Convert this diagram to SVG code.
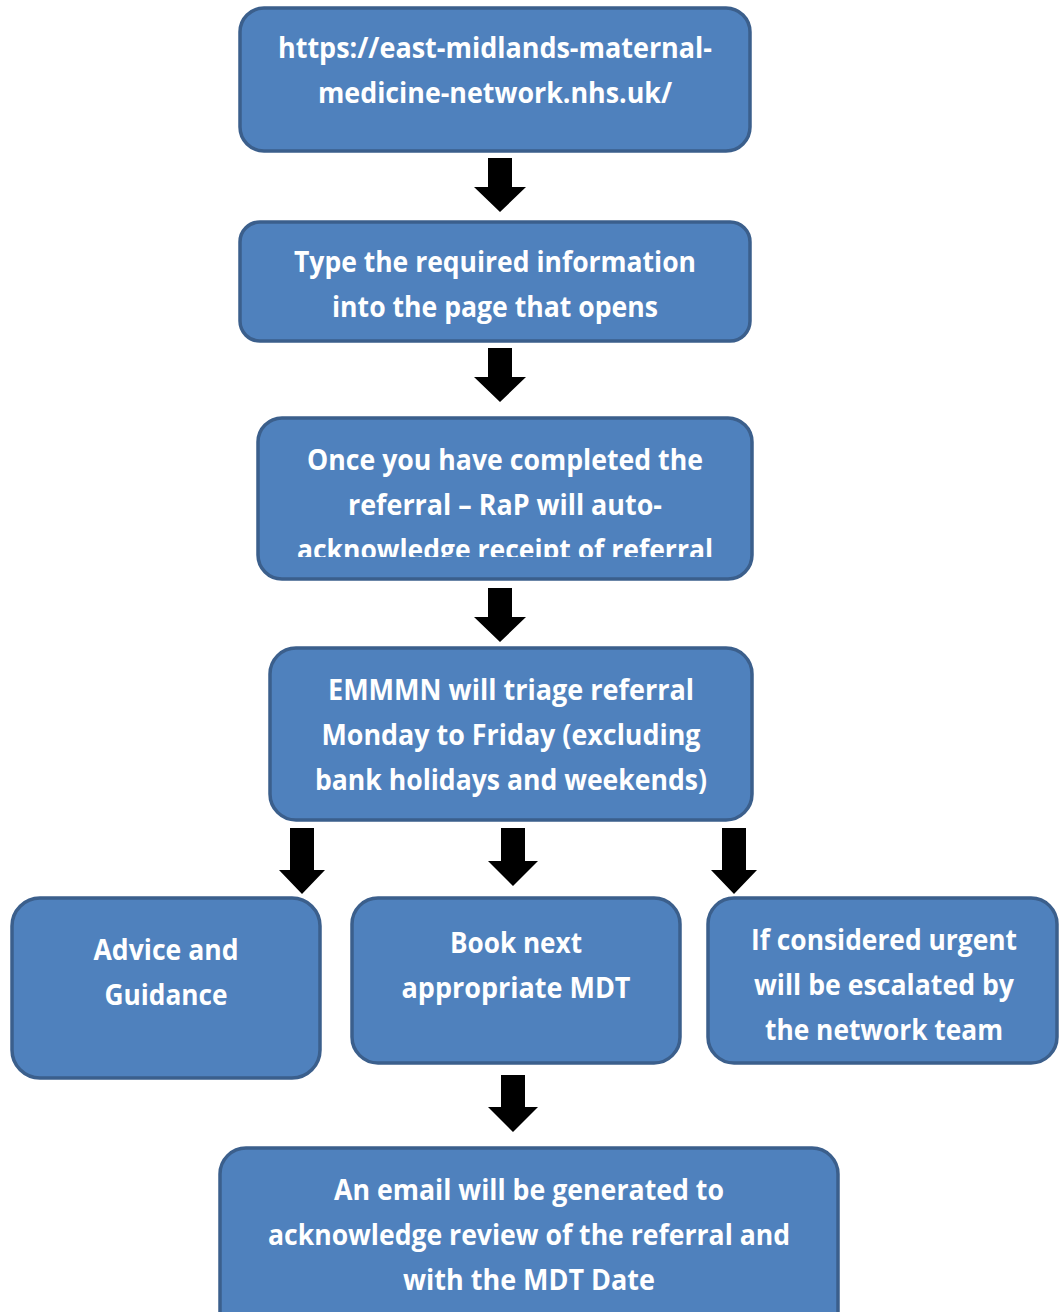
<svg xmlns="http://www.w3.org/2000/svg" width="1059" height="1312" viewBox="0 0 1059 1312">
<defs>
<style>
.box{fill:#4f81bd;stroke:#3b5f8c;stroke-width:3.5}
.t{fill:#ffffff;font-family:"Open Sans","Noto Sans","Liberation Sans",sans-serif;font-weight:700;font-size:28px;text-anchor:middle}
.arr{fill:#000000}
</style>
<clipPath id="clip3"><rect x="250" y="410" width="510" height="147"/></clipPath>
</defs>
<rect width="1059" height="1312" fill="#ffffff"/>
<g id="connectors">
<polygon class="arr" points="488,158 512,158 512,187 526,187 500,212 474,187 488,187"/>
<polygon class="arr" points="488,348 512,348 512,377 526,377 500,402 474,377 488,377"/>
<polygon class="arr" points="488,588 512,588 512,617 526,617 500,642 474,617 488,617"/>
<polygon class="arr" points="290,828 314,828 314,870 325,870 302,894 279,870 290,870"/>
<polygon class="arr" points="501,828 525,828 525,861 538,861 513,886 488,861 501,861"/>
<polygon class="arr" points="722,828 746,828 746,870 757,870 734,894 711,870 722,870"/>
<polygon class="arr" points="501,1075 525,1075 525,1107 538,1107 513,1132 488,1107 501,1107"/>
</g>
<g id="n1">
<rect class="box" x="240" y="8" width="510" height="143" rx="24"/>
<text class="t" x="495" y="58" textLength="434" lengthAdjust="spacingAndGlyphs">https://east-midlands-maternal-</text>
<text class="t" x="495" y="103" textLength="354" lengthAdjust="spacingAndGlyphs">medicine-network.nhs.uk/</text>
</g>
<g id="n2">
<rect class="box" x="240" y="222" width="510" height="119" rx="20"/>
<text class="t" x="495" y="272" textLength="402" lengthAdjust="spacingAndGlyphs">Type the required information</text>
<text class="t" x="495" y="317" textLength="326" lengthAdjust="spacingAndGlyphs">into the page that opens</text>
</g>
<g id="n3">
<rect class="box" x="258" y="418" width="494" height="161" rx="24"/>
<g clip-path="url(#clip3)">
<text class="t" x="505" y="470" textLength="396" lengthAdjust="spacingAndGlyphs">Once you have completed the</text>
<text class="t" x="505" y="515" textLength="314" lengthAdjust="spacingAndGlyphs">referral – RaP will auto-</text>
<text class="t" x="505" y="560" textLength="416" lengthAdjust="spacingAndGlyphs">acknowledge receipt of referral</text>
</g>
</g>
<g id="n4">
<rect class="box" x="270" y="648" width="482" height="172" rx="26"/>
<text class="t" x="511" y="700" textLength="366" lengthAdjust="spacingAndGlyphs">EMMMN will triage referral</text>
<text class="t" x="511" y="745" textLength="379" lengthAdjust="spacingAndGlyphs">Monday to Friday (excluding</text>
<text class="t" x="511" y="790" textLength="392" lengthAdjust="spacingAndGlyphs">bank holidays and weekends)</text>
</g>
<g id="n5">
<rect class="box" x="12" y="898" width="308" height="180" rx="28"/>
<text class="t" x="166" y="960" textLength="145" lengthAdjust="spacingAndGlyphs">Advice and</text>
<text class="t" x="166" y="1005" textLength="123" lengthAdjust="spacingAndGlyphs">Guidance</text>
</g>
<g id="n6">
<rect class="box" x="352" y="898" width="328" height="165" rx="26"/>
<text class="t" x="516" y="953" textLength="132" lengthAdjust="spacingAndGlyphs">Book next</text>
<text class="t" x="516" y="998" textLength="229" lengthAdjust="spacingAndGlyphs">appropriate MDT</text>
</g>
<g id="n7">
<rect class="box" x="708" y="898" width="349" height="165" rx="26"/>
<text class="t" x="884" y="950" textLength="266" lengthAdjust="spacingAndGlyphs">If considered urgent</text>
<text class="t" x="884" y="995" textLength="260" lengthAdjust="spacingAndGlyphs">will be escalated by</text>
<text class="t" x="884" y="1040" textLength="238" lengthAdjust="spacingAndGlyphs">the network team</text>
</g>
<g id="n8">
<rect class="box" x="220" y="1148" width="618" height="190" rx="26"/>
<text class="t" x="529" y="1200" textLength="390" lengthAdjust="spacingAndGlyphs">An email will be generated to</text>
<text class="t" x="529" y="1245" textLength="522" lengthAdjust="spacingAndGlyphs">acknowledge review of the referral and</text>
<text class="t" x="529" y="1290" textLength="252" lengthAdjust="spacingAndGlyphs">with the MDT Date</text>
</g>
</svg>
